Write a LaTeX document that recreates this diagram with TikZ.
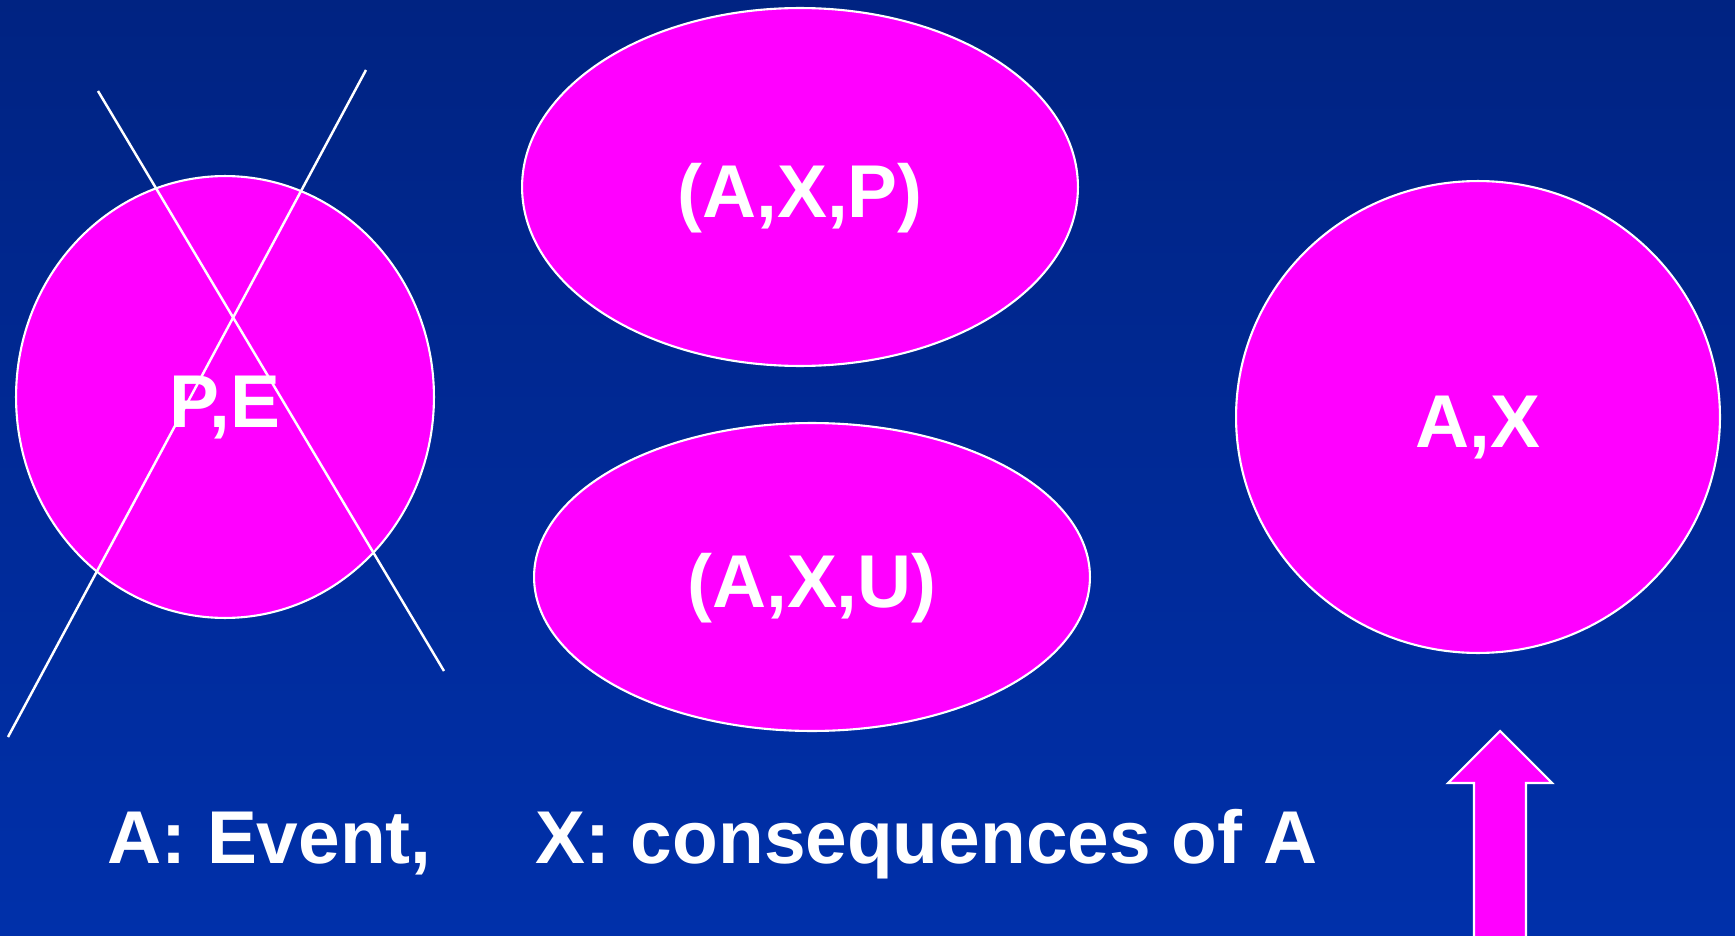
\documentclass[tikz,border=0pt]{standalone}
\usepackage{fontspec}
\setmainfont{Liberation Sans}
\usetikzlibrary{shapes.geometric}
\definecolor{navytop}{RGB}{0,35,130}
\definecolor{navybot}{RGB}{0,48,170}
\definecolor{pink}{RGB}{255,0,255}
\begin{document}
\begin{tikzpicture}[
  x=0.02cm,y=-0.02cm,
  bigfont/.style={font=\fontsize{42.6}{50}\selectfont\bfseries,text=white},
  blob/.style={ellipse,draw=white,line width=1.2pt,fill=pink,inner sep=0pt,bigfont,
    text height=35pt,text depth=0pt},
  cross/.style={draw=white,line width=1.4pt}
]
\shade[top color=navytop,bottom color=navybot] (0,0) rectangle (1735,936);
\useasboundingbox (0,0) rectangle (1735,936);
% the three sets
\node[blob,minimum width=8.36cm,minimum height=8.84cm] (pe) at (225,397) {P,E};
\node[blob,minimum width=11.12cm,minimum height=7.16cm] (axp) at (800,187) {(A,X,P)};
\node[blob,minimum width=11.12cm,minimum height=6.16cm] (axu) at (812,577) {(A,X,U)};
\node[blob,minimum width=9.68cm,minimum height=9.44cm] (ax) at (1478,417) {A,X};
% crossing out P,E
\draw[cross] (98,91) -- (444,671);
\draw[cross] (366,70) -- (8,737);
% legend
\node[bigfont,anchor=base west,inner sep=0pt] (ev) at (107,863) {A: Event,};
\node[bigfont,anchor=base west,inner sep=0pt] (cons) at (535,863) {X: consequences of A};
% block arrow
\draw[draw=white,line width=1.2pt,fill=pink]
  (1474,950) -- (1474,783) -- (1448,783) -- (1500,731) -- (1552,783)
  -- (1526,783) -- (1526,950) -- cycle;
\end{tikzpicture}
\end{document}
